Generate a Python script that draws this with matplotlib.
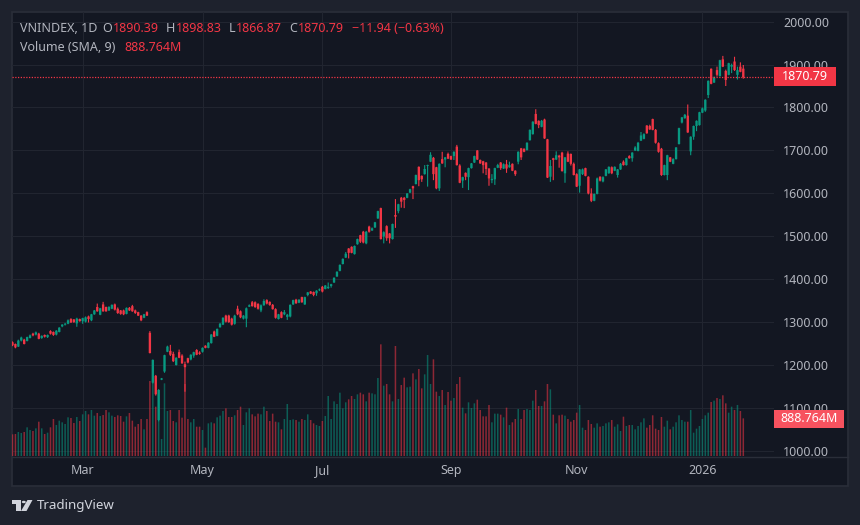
"""VNINDEX daily candles with volume, dark TradingView look."""
import matplotlib
matplotlib.use("Agg")
import matplotlib.pyplot as plt
from matplotlib.lines import Line2D
from matplotlib.patches import Polygon, Circle, Rectangle

opens = [
    1254, 1250, 1244, 1258, 1260, 1257, 1264, 1274, 1272, 1274, 1264, 1271, 1266, 1280, 1278, 1272, 1278, 1291, 1295, 1297,
    1308, 1307, 1298, 1308, 1303, 1302, 1314, 1305, 1319, 1336, 1318, 1342, 1336, 1328, 1332, 1342, 1332, 1328, 1328, 1320,
    1334, 1338, 1328, 1324, 1316, 1311, 1324, 1276, 1160, 1176, 1073, 1167, 1186, 1232, 1234, 1227, 1201, 1231, 1223, 1203,
    1217, 1214, 1223, 1236, 1230, 1232, 1246, 1241, 1252, 1279, 1269, 1289, 1295, 1316, 1316, 1309, 1297, 1332, 1326, 1309,
    1309, 1337, 1347, 1347, 1343, 1328, 1340, 1352, 1348, 1341, 1331, 1308, 1324, 1319, 1313, 1314, 1342, 1353, 1346, 1359,
    1342, 1364, 1372, 1371, 1368, 1375, 1383, 1378, 1380, 1385, 1393, 1407, 1420, 1436, 1451, 1472, 1476, 1459, 1482, 1503,
    1511, 1484, 1523, 1514, 1521, 1542, 1566, 1500, 1524, 1507, 1494, 1550, 1559, 1590, 1590, 1590, 1602, 1617, 1622, 1662,
    1641, 1645, 1664, 1674, 1683, 1661, 1612, 1680, 1679, 1692, 1687, 1687, 1709, 1665, 1630, 1648, 1638, 1659, 1672, 1700,
    1678, 1675, 1672, 1658, 1631, 1633, 1660, 1672, 1658, 1668, 1661, 1669, 1653, 1674, 1705, 1704, 1701, 1724, 1738, 1785,
    1769, 1755, 1772, 1726, 1639, 1682, 1679, 1688, 1695, 1647, 1693, 1692, 1669, 1645, 1618, 1645, 1659, 1639, 1600, 1583,
    1599, 1639, 1628, 1641, 1647, 1661, 1653, 1643, 1656, 1674, 1666, 1687, 1682, 1700, 1699, 1723, 1727, 1758, 1757, 1773,
    1748, 1717, 1704, 1643, 1643, 1684, 1669, 1680, 1715, 1765, 1775, 1781, 1698, 1732, 1757, 1759, 1788, 1793, 1829, 1890,
    1858, 1887, 1873, 1912, 1885, 1876, 1895, 1907, 1876, 1895, 1890.39,
]
closes = [
    1247, 1242, 1258, 1265, 1250, 1266, 1270, 1270, 1277, 1262, 1269, 1267, 1271, 1274, 1271, 1281, 1288, 1295, 1297, 1305,
    1300, 1301, 1309, 1303, 1310, 1312, 1308, 1319, 1328, 1326, 1333, 1326, 1326, 1336, 1341, 1330, 1322, 1320, 1319, 1334,
    1328, 1326, 1322, 1316, 1305, 1319, 1316, 1229, 1213, 1133, 1143, 1170, 1224, 1244, 1225, 1210, 1218, 1218, 1205, 1196,
    1207, 1225, 1231, 1225, 1227, 1241, 1241, 1253, 1272, 1267, 1285, 1297, 1311, 1302, 1301, 1295, 1316, 1319, 1312, 1316,
    1333, 1340, 1338, 1336, 1332, 1340, 1350, 1344, 1341, 1331, 1311, 1319, 1311, 1324, 1318, 1341, 1352, 1345, 1353, 1347,
    1359, 1370, 1367, 1364, 1374, 1377, 1372, 1386, 1383, 1389, 1404, 1418, 1434, 1448, 1460, 1462, 1462, 1478, 1494, 1488,
    1486, 1511, 1511, 1519, 1533, 1559, 1494, 1510, 1496, 1496, 1529, 1546, 1575, 1581, 1585, 1600, 1610, 1612, 1643, 1631,
    1633, 1657, 1666, 1690, 1645, 1612, 1669, 1670, 1684, 1681, 1679, 1697, 1666, 1625, 1638, 1639, 1659, 1670, 1687, 1679,
    1670, 1666, 1657, 1635, 1634, 1659, 1666, 1659, 1668, 1658, 1666, 1653, 1645, 1697, 1684, 1697, 1718, 1748, 1767, 1762,
    1759, 1769, 1728, 1637, 1664, 1678, 1689, 1684, 1652, 1684, 1674, 1669, 1643, 1616, 1656, 1656, 1641, 1600, 1583, 1599,
    1635, 1630, 1638, 1656, 1662, 1647, 1662, 1656, 1669, 1666, 1682, 1682, 1695, 1707, 1718, 1735, 1738, 1740, 1749, 1748,
    1718, 1697, 1643, 1666, 1689, 1674, 1680, 1707, 1752, 1777, 1783, 1742, 1732, 1757, 1769, 1789, 1798, 1818, 1862, 1855,
    1870, 1876, 1910, 1895, 1864, 1903, 1899, 1887, 1887, 1883, 1870.79,
]
highs = [
    1256, 1251, 1260, 1267, 1262, 1267, 1272, 1276, 1279, 1276, 1270, 1272, 1272, 1282, 1279, 1282, 1289, 1296, 1299, 1307,
    1310, 1308, 1311, 1309, 1311, 1314, 1316, 1320, 1329, 1344, 1334, 1348, 1337, 1338, 1342, 1344, 1335, 1329, 1330, 1335,
    1336, 1341, 1330, 1325, 1317, 1320, 1326, 1280, 1214, 1178, 1145, 1171, 1225, 1246, 1248, 1232, 1219, 1237, 1226, 1209,
    1218, 1226, 1232, 1238, 1233, 1242, 1247, 1254, 1273, 1281, 1286, 1299, 1312, 1318, 1318, 1311, 1318, 1339, 1328, 1317,
    1335, 1342, 1350, 1349, 1345, 1342, 1354, 1354, 1349, 1343, 1333, 1320, 1326, 1329, 1320, 1342, 1353, 1355, 1354, 1360,
    1360, 1371, 1373, 1372, 1375, 1379, 1385, 1387, 1393, 1390, 1405, 1419, 1435, 1449, 1464, 1473, 1477, 1479, 1495, 1504,
    1513, 1513, 1525, 1521, 1534, 1560, 1567, 1512, 1526, 1508, 1530, 1587, 1576, 1592, 1592, 1601, 1611, 1618, 1644, 1663,
    1642, 1666, 1667, 1696, 1685, 1662, 1670, 1697, 1685, 1695, 1688, 1698, 1713, 1668, 1639, 1649, 1660, 1671, 1688, 1701,
    1679, 1676, 1673, 1659, 1645, 1660, 1669, 1673, 1670, 1678, 1674, 1670, 1654, 1698, 1706, 1705, 1719, 1749, 1768, 1796,
    1770, 1771, 1774, 1727, 1678, 1683, 1698, 1690, 1697, 1685, 1698, 1693, 1672, 1647, 1657, 1658, 1660, 1640, 1612, 1600,
    1637, 1640, 1640, 1657, 1663, 1663, 1663, 1657, 1671, 1677, 1683, 1689, 1696, 1710, 1720, 1743, 1740, 1759, 1760, 1774,
    1750, 1719, 1706, 1667, 1690, 1685, 1682, 1708, 1753, 1778, 1785, 1807, 1733, 1758, 1770, 1790, 1800, 1819, 1863, 1891,
    1872, 1895, 1911, 1920, 1888, 1904, 1902, 1918, 1895, 1905, 1898.83,
]
lows = [
    1245, 1240, 1243, 1256, 1249, 1256, 1263, 1268, 1270, 1261, 1262, 1265, 1264, 1272, 1269, 1270, 1277, 1289, 1293, 1296,
    1299, 1299, 1290, 1302, 1297, 1300, 1300, 1303, 1318, 1325, 1317, 1325, 1325, 1327, 1331, 1328, 1320, 1318, 1317, 1319,
    1327, 1325, 1320, 1315, 1303, 1310, 1315, 1228, 1158, 1130, 1070, 1166, 1183, 1231, 1222, 1208, 1200, 1217, 1204, 1139,
    1205, 1212, 1218, 1224, 1225, 1230, 1240, 1240, 1251, 1266, 1268, 1288, 1294, 1300, 1299, 1293, 1295, 1317, 1310, 1307,
    1289, 1336, 1337, 1334, 1330, 1324, 1339, 1342, 1339, 1330, 1309, 1307, 1310, 1317, 1306, 1312, 1341, 1343, 1345, 1346,
    1341, 1361, 1366, 1361, 1362, 1373, 1370, 1377, 1378, 1381, 1392, 1406, 1419, 1435, 1450, 1449, 1461, 1458, 1481, 1485,
    1484, 1482, 1509, 1513, 1520, 1541, 1493, 1484, 1490, 1484, 1493, 1520, 1554, 1567, 1566, 1589, 1601, 1587, 1621, 1617,
    1627, 1644, 1616, 1673, 1631, 1610, 1606, 1669, 1661, 1680, 1678, 1678, 1665, 1624, 1613, 1631, 1608, 1658, 1671, 1678,
    1669, 1647, 1643, 1618, 1624, 1620, 1659, 1655, 1657, 1648, 1660, 1652, 1641, 1668, 1678, 1696, 1700, 1723, 1737, 1761,
    1752, 1754, 1727, 1636, 1627, 1631, 1678, 1660, 1651, 1625, 1673, 1665, 1642, 1615, 1602, 1643, 1640, 1598, 1580, 1582,
    1598, 1628, 1626, 1640, 1646, 1645, 1652, 1637, 1655, 1665, 1665, 1681, 1674, 1699, 1698, 1722, 1726, 1739, 1748, 1747,
    1716, 1695, 1641, 1642, 1631, 1673, 1668, 1679, 1714, 1763, 1774, 1741, 1689, 1725, 1745, 1758, 1787, 1790, 1822, 1854,
    1857, 1872, 1872, 1894, 1850, 1875, 1880, 1885, 1865, 1882, 1866.87,
]
# volume in millions
volumes = [
    507, 515, 562, 538, 562, 671, 608, 585, 647, 803, 647, 515, 546, 671, 866, 725, 827, 788, 749, 905,
    889, 772, 913, 819, 975, 1053, 975, 1076, 944, 1006, 936, 959, 1076, 1022, 944, 913, 952, 936, 803, 928,
    1006, 827, 686, 749, 866, 624, 866, 1755, 1895, 1154, 1544, 398, 1700, 1053, 1076, 819, 788, 1076, 897, 1685,
    866, 788, 866, 686, 686, 608, 195, 764, 788, 764, 905, 944, 1053, 1115, 913, 913, 952, 1076, 1154, 725,
    1022, 1115, 975, 928, 991, 975, 1154, 1053, 819, 991, 803, 788, 624, 866, 1217, 842, 858, 842, 803, 866,
    842, 975, 842, 764, 725, 702, 819, 936, 1404, 866, 1279, 1217, 1482, 1115, 1256, 1326, 1404, 1334, 1443, 1482,
    1443, 1279, 1482, 1466, 1443, 1825, 2613, 1646, 1685, 1443, 1279, 2574, 1334, 1661, 1833, 1607, 1622, 1934, 1794, 2036,
    1583, 1911, 2363, 1685, 2262, 1505, 1404, 1544, 1193, 1498, 1295, 1357, 1685, 1849, 1131, 998, 1256, 1123, 1232, 1318,
    1076, 928, 928, 1193, 788, 991, 991, 967, 905, 1131, 725, 788, 866, 1100, 866, 1076, 1100, 1076, 1295, 1544,
    1170, 1170, 1279, 1685, 1560, 967, 764, 952, 967, 944, 866, 803, 842, 1014, 1193, 663, 608, 842, 749, 663,
    764, 686, 702, 764, 788, 842, 686, 741, 585, 920, 702, 725, 725, 624, 702, 788, 881, 663, 725, 952,
    640, 608, 913, 686, 827, 624, 686, 788, 952, 842, 803, 803, 1076, 546, 640, 702, 866, 952, 1014, 1264,
    1295, 1357, 1334, 1420, 1232, 1014, 1154, 1076, 1193, 1053, 881,
]
sma_volume = 888.764

price_ticks = [1000, 1100, 1200, 1300, 1400, 1500, 1600, 1700, 1800, 1900, 2000]
month_ticks = [24, 65, 106, 150, 193, 236]
month_labels = ["Mar", "May", "Jul", "Sep", "Nov", "2026"]

W, H = 860, 525
OUTER = "#1e222d"
PANEL = "#131722"
BORDER = "#2a2e39"
GRID = "#212530"
TEXT = "#b2b5be"
UP = "#089981"
DOWN = "#f23645"
FONT = "Noto Sans"


def fx(x):
    return x / W


def fy(y):
    return 1 - y / H


def add_axes_px(left, top, right, bottom, **kw):
    return fig.add_axes([fx(left), fy(bottom), (right - left) / W, (bottom - top) / H], **kw)


def label(x, y, s, color=TEXT, size=9, **kw):
    fig.text(fx(x), fy(y), s, color=color, fontsize=size, va="center", family=FONT, zorder=10, **kw)


def tag(left, right, top, bottom, s, color):
    fig.add_artist(Rectangle((fx(left), fy(bottom)), (right - left) / W, (bottom - top) / H,
                             transform=fig.transFigure, color=color, lw=0, zorder=9))
    label((left + right) / 2, (top + bottom) / 2 - 0.5, s, color="#ffffff", fontweight="bold", ha="center")


fig = plt.figure(figsize=(W / 100, H / 100), dpi=100, facecolor=OUTER)
fig.add_artist(Rectangle((fx(12), fy(486)), 836 / W, 474 / H, transform=fig.transFigure,
                         facecolor=PANEL, edgecolor=BORDER, lw=1.2, zorder=-5))

x = list(range(len(closes)))
colors = [UP if c >= o else DOWN for o, c in zip(opens, closes)]
xlim = (-0.17, 260.5)
ylim = (989.5, 2022.1)

# back layer: grid and scales
ax = add_axes_px(12, 12, 774, 456, zorder=1)
ax.set_facecolor("none")
ax.set_xlim(xlim)
ax.set_ylim(ylim)
ax.set_yticks(price_ticks)
ax.set_yticklabels([f"{p:.2f}" for p in price_ticks], family=FONT, fontsize=9, color=TEXT)
ax.yaxis.tick_right()
ax.set_xticks(month_ticks)
ax.set_xticklabels(month_labels, family=FONT, fontsize=9, color=TEXT)
ax.get_xticklabels()[-1].set_fontweight("bold")
ax.tick_params(axis="both", length=0)
ax.tick_params(axis="y", pad=6.5)
ax.tick_params(axis="x", pad=6)
ax.grid(True, color=GRID, lw=0.8)
for s in ax.spines.values():
    s.set_visible(False)

# volume layer, drawn unsnapped so the thin bars stay even
ax_vol = add_axes_px(12, 12, 774, 456, zorder=2)
ax_vol.set_facecolor("none")
ax_vol.set_xlim(xlim)
ax_vol.set_ylim(0, 444 * 23.4)
for b in ax_vol.bar(x, volumes, width=0.52, color=colors, alpha=0.55, lw=0):
    b.set_snap(False)
ax_vol.axis("off")

# candles on top
ax_c = add_axes_px(12, 12, 774, 456, zorder=3)
ax_c.set_facecolor("none")
ax_c.set_xlim(xlim)
ax_c.set_ylim(ylim)
wicks = ax_c.vlines(x, lows, highs, colors=colors, lw=0.8)
wicks.set_snap(False)
bodies = ax_c.bar(x, [abs(c - o) for o, c in zip(opens, closes)], bottom=[min(o, c) for o, c in zip(opens, closes)],
                  width=0.8, color=colors, lw=0)
for b in bodies:
    b.set_snap(False)
ax_c.axhline(closes[-1], color=DOWN, ls=(0, (1, 1.2)), lw=0.9)
ax_c.axis("off")

# line under the plot area, runs through the price scale too
fig.add_artist(Line2D([fx(12), fx(848)], [fy(456.5), fy(456.5)], color=BORDER, lw=1, zorder=4))

tag(774, 836, 67.5, 86, f"{closes[-1]:.2f}", DOWN)
tag(774, 844, 409.5, 427.5, f"{sma_volume:.3f}M", "#f7525f")

# legend
label(20, 29, "VNINDEX, 1D")
label(102.5, 29, "O")
label(112.5, 29, f"{opens[-1]:.2f}", DOWN)
label(166, 29, "H")
label(175.5, 29, f"{highs[-1]:.2f}", DOWN)
label(228.5, 29, "L")
label(236, 29, f"{lows[-1]:.2f}", DOWN)
label(289, 29, "C")
label(298, 29, f"{closes[-1]:.2f}", DOWN)
label(351.5, 29, "\u221211.94 (\u22120.63%)", DOWN)
label(20, 47.3, "Volume (SMA, 9)")
label(124, 47.3, f"{sma_volume:.3f}M", DOWN)

# TradingView logo and name
LOGO = "#d1d4dc"
fig.add_artist(Polygon([(fx(11.5), fy(500)), (fx(20.5), fy(500)), (fx(20.5), fy(511)), (fx(15.5), fy(511)),
                        (fx(15.5), fy(503.5)), (fx(11.5), fy(503.5))], transform=fig.transFigure, color=LOGO, lw=0))
fig.add_artist(Circle((fx(23.8), fy(502)), 2.0 / W, transform=fig.transFigure, color=LOGO, lw=0))
fig.add_artist(Polygon([(fx(27.5), fy(500)), (fx(32.5), fy(500)), (fx(26.5), fy(511)), (fx(21), fy(511))],
                       transform=fig.transFigure, color=LOGO, lw=0))
label(36.5, 506, "TradingView", color=LOGO, size=9.6)

fig.savefig("out.png", dpi=100, facecolor=OUTER)
